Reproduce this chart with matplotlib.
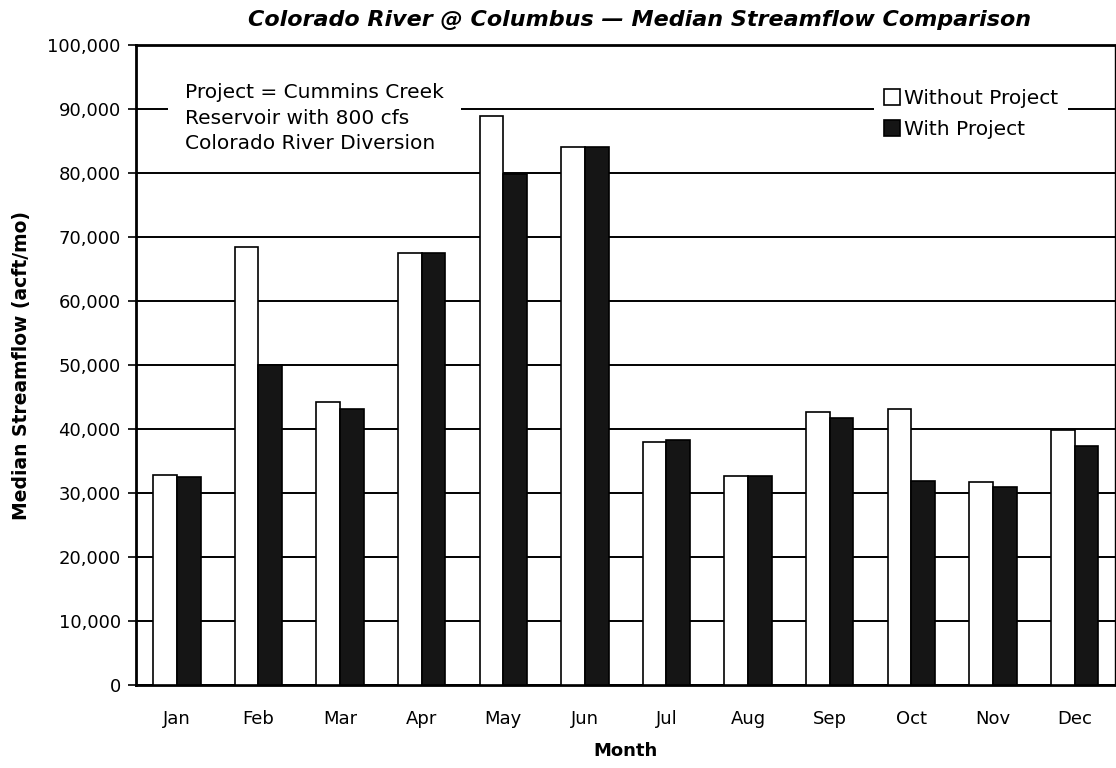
import numpy as np
import matplotlib.pyplot as plt

plt.rcParams['font.family'] = ['DejaVu Sans']

months = ['Jan', 'Feb', 'Mar', 'Apr', 'May', 'Jun',
          'Jul', 'Aug', 'Sep', 'Oct', 'Nov', 'Dec']
without_project = [32800, 68400, 44200, 67500, 88900, 84000,
                   38000, 32600, 42600, 43100, 31700, 39800]
with_project = [32500, 50000, 43100, 67500, 79800, 84000,
                38300, 32700, 41700, 31900, 30900, 37300]
y_ticks = list(range(0, 100001, 10000))

fig = plt.figure(figsize=(11.16, 7.68), dpi=100)
ax = fig.add_axes([0.1219, 0.108, 0.8775, 0.8334])

x = np.arange(len(months))
w = 0.29
ax.bar(x - w / 2, without_project, w, color='white', edgecolor='black',
       linewidth=1.2, zorder=3, label='Without Project')
ax.bar(x + w / 2, with_project, w, color='#151515', edgecolor='black',
       linewidth=1.2, zorder=3, label='With Project')

ax.set_xlim(-0.5, len(months) - 0.5)
ax.set_ylim(0, 100000)
ax.set_yticks(y_ticks)
ax.set_yticklabels(['{:,}'.format(v) for v in y_ticks])
ax.set_xticks(x)
ax.set_xticklabels(months)
ax.tick_params(axis='y', direction='out', length=6, width=1.2, labelsize=13, pad=5)
ax.tick_params(axis='x', length=0, labelsize=13, pad=18)

ax.yaxis.grid(True, color='black', linewidth=1.4, zorder=0)
ax.set_axisbelow(True)
for side in ['left', 'top', 'bottom']:
    ax.spines[side].set_linewidth(2)
ax.spines['right'].set_linewidth(1)

ax.set_title('Colorado River @ Columbus \u2014 Median Streamflow Comparison',
             fontsize=16, style='italic', fontweight='bold', pad=14, x=0.514)
ax.set_xlabel('Month', fontsize=13, fontweight='bold', labelpad=10)
ax.set_ylabel('Median Streamflow (acft/mo)', fontsize=13.5, fontweight='bold', labelpad=12)

ax.text(0.05, 0.94, 'Project = Cummins Creek\nReservoir with 800 cfs\nColorado River Diversion',
        transform=ax.transAxes, fontsize=14.5, va='top', ha='left', linespacing=1.42,
        zorder=5, bbox=dict(facecolor='white', edgecolor='none', pad=12))

leg = ax.legend(loc='upper right', bbox_to_anchor=(0.962, 0.963), frameon=True,
                fontsize=14.5, handlelength=0.8, handleheight=0.8, handletextpad=0.2,
                borderpad=0.5, labelspacing=0.6, fancybox=False)
leg.get_frame().set_edgecolor('none')
leg.get_frame().set_facecolor('white')
leg.get_frame().set_alpha(1)
leg.set_zorder(6)

fig.savefig('out.png', dpi=100)
